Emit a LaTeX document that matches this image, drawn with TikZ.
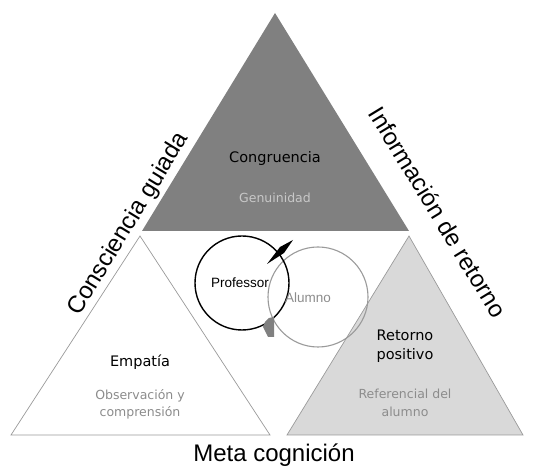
\documentclass[tikz,border=0pt]{standalone}
\usepackage{fontspec}
\setmainfont{Liberation Sans}
\newfontfamily\verdfont{DejaVu Sans}
\usetikzlibrary{positioning}

\definecolor{darkgrey}{HTML}{808080}
\definecolor{lightgrey}{HTML}{D9D9D9}
\definecolor{linegrey}{HTML}{9A9A9A}
\definecolor{textgrey}{HTML}{8C8C8C}
\definecolor{palegrey}{HTML}{C8C8C8}

\begin{document}
\begin{tikzpicture}[x=1pt, y=1pt,
		sidelabel/.style={font=\fontsize{24}{28}\selectfont, inner sep=0pt},
		heading/.style={font=\verdfont\fontsize{14.5}{19}\selectfont, align=center},
		subheading/.style={font=\verdfont\fontsize{12.5}{17.5}\selectfont, text=textgrey, align=center},
		circlabel/.style={font=\fontsize{13.5}{16}\selectfont, inner sep=1pt}]
		\useasboundingbox (0,0) rectangle (542,468);
	
		% corners of the three triangles
		\coordinate (topApex) at (275,455);
		\coordinate (topLeft) at (142,237);
		\coordinate (topRight) at (409,237);
		\coordinate (leftApex) at (140,232);
		\coordinate (leftLeft) at (11,33);
		\coordinate (leftRight) at (270,33);
		\coordinate (rightApex) at (409,232);
		\coordinate (rightLeft) at (287,33);
		\coordinate (rightRight) at (523,33);
		
		\fill[darkgrey] (topApex) -- (topLeft) -- (topRight) -- cycle;
		\draw[linegrey, line width=.7pt, fill=white] (leftApex) -- (leftLeft) -- (leftRight) -- cycle;
		\draw[linegrey, line width=.7pt, fill=lightgrey] (rightApex) -- (rightLeft) -- (rightRight) -- cycle;
		
		% circles
		\draw[linegrey, line width=1.1pt] (318,171) circle (50);
		\draw[black, line width=1.4pt] (242,185) circle (47);
		\fill[black] (267,204) -- (280,221) -- (293,228) -- (284,215) -- cycle;
		\fill[darkgrey] (265,146) -- (269,150) -- (274,151) -- (274,131) -- (268,131) -- (266,135) -- (263,141) -- cycle;
		
		\node[circlabel] (professor) at (240,185) {Professor};
		\node[circlabel, text=textgrey] (alumno) at (308,170) {Alumno};
		
		\node[heading] (congruencia) at (275,309) {Congruencia};
		\node[subheading, text=palegrey, below=20pt of congruencia] (genuinidad) {Genuinidad};
		\node[heading] (empatia) at (140,106) {Empat\'ia};
		\node[subheading, below=13pt of empatia] (observacion) {Observaci\'on y\\comprensi\'on};
		\node[heading] (retorno) at (405,122) {Retorno\\positivo};
		\node[subheading, below=20pt of retorno] (referencial) {Referencial del\\alumno};
		
		\node[sidelabel, rotate=58.6] (consciencia) at (129,244) {Consciencia guiada};
		\node[sidelabel, rotate=-58.6] (informacion) at (438,256) {Informaci\'on de retorno};
		\node[sidelabel] (meta) at (274,13) {Meta cognici\'on};
		
	\end{tikzpicture}
\end{document}
